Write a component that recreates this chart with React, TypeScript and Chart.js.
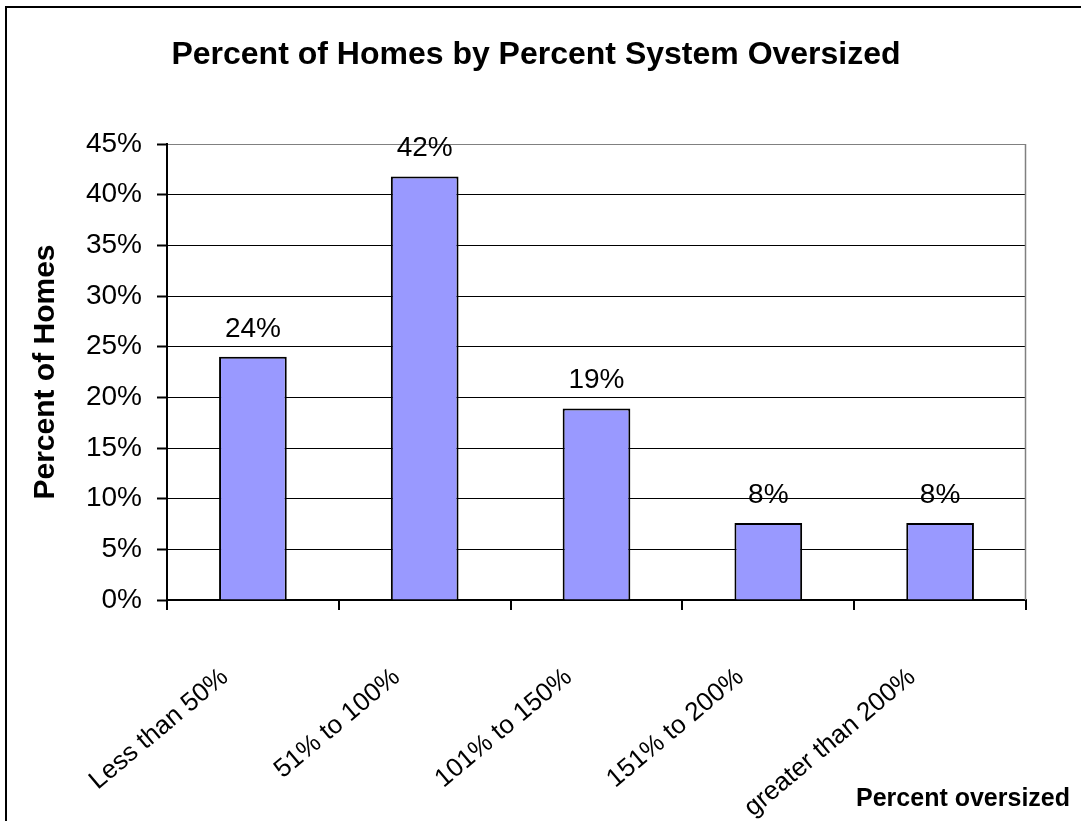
import React, { useEffect, useRef } from "react";
import { Chart, registerables } from "chart.js";

Chart.register(...registerables);

const categories = ["Less than 50%", "51% to 100%", "101% to 150%", "151% to 200%", "greater than 200%"];
const percentHomes = [24.0, 41.8, 18.9, 7.6, 7.6];
const yTickValues = [0, 5, 10, 15, 20, 25, 30, 35, 40, 45];
const chartTitle = "Percent of Homes by Percent System Oversized";
const yTitle = "Percent of Homes";
const xTitle = "Percent oversized";

const FONT = "Arial, 'Liberation Sans', sans-serif";

const dataLabelPlugin = {
  id: "dataLabels",
  afterDatasetsDraw(chart: any) {
    const ctx = chart.ctx;
    const meta = chart.getDatasetMeta(0);
    ctx.save();
    ctx.font = `28px ${FONT}`;
    ctx.fillStyle = "#000";
    ctx.textAlign = "center";
    ctx.textBaseline = "alphabetic";
    meta.data.forEach((bar: any, i: number) => {
      const v = percentHomes[i];
      ctx.fillText(`${Math.round(v)}%`, bar.x, bar.y - 20);
    });
    ctx.restore();
  },
};

const framePlugin = {
  id: "plotFrame",
  afterDraw(chart: any) {
    const { ctx, chartArea } = chart;
    ctx.save();
    ctx.strokeStyle = "#808080";
    ctx.lineWidth = 1.5;
    ctx.beginPath();
    ctx.moveTo(chartArea.right - 0.5, chartArea.top);
    ctx.lineTo(chartArea.right - 0.5, chartArea.bottom);
    ctx.stroke();
    ctx.font = `bold 25px ${FONT}`;
    ctx.fillStyle = "#000";
    ctx.textAlign = "right";
    ctx.textBaseline = "alphabetic";
    ctx.fillText(xTitle, 1070, 806);
    ctx.restore();
  },
};

export default function App() {
  const canvasRef = useRef<HTMLCanvasElement | null>(null);

  useEffect(() => {
    if (!canvasRef.current) return;
    const chart = new Chart(canvasRef.current, {
      type: "bar",
      data: {
        labels: categories,
        datasets: [
          {
            data: percentHomes,
            backgroundColor: "#9999FF",
            borderColor: "#000000",
            borderWidth: 2,
            categoryPercentage: 1,
            barPercentage: 0.394,
          },
        ],
      },
      options: {
        responsive: false,
        animation: false,
        layout: { padding: { left: 46, right: 55, top: 0, bottom: 0 } },
        plugins: {
          legend: { display: false },
          tooltip: { enabled: false },
          title: {
            display: true,
            text: chartTitle,
            color: "#000",
            font: { family: FONT, size: 32, weight: "bold" },
            padding: { top: 36, bottom: 69.6 },
          },
        },
        scales: {
          x: {
            grid: {
              offset: true,
              drawOnChartArea: false,
              drawTicks: true,
              tickLength: 10,
              color: "#000",
              lineWidth: 2,
            },
            border: { display: true, color: "#000", width: 2 },
            ticks: {
              color: "#000",
              font: { family: FONT, size: 26 },
              minRotation: 40,
              maxRotation: 40,
              labelOffset: -28,
              padding: 52,
              autoSkip: false,
            },
            afterFit: (s: any) => {
              s.height = 221;
            },
          },
          y: {
            min: 0,
            max: 45,
            afterBuildTicks: (s: any) => {
              s.ticks = yTickValues.map((v) => ({ value: v }));
            },
            grid: {
              color: (c: any) => (c.tick && c.tick.value === 45 ? "#808080" : "#000"),
              lineWidth: 1,
              tickLength: 10,
              tickWidth: 2,
              tickColor: "#000",
            },
            border: { display: true, color: "#000", width: 2 },
            ticks: {
              color: "#000",
              font: { family: FONT, size: 28 },
              padding: 15,
              callback: (v: any) => `${v}%`,
            },
            title: {
              display: true,
              text: yTitle,
              color: "#000",
              font: { family: FONT, size: 30, weight: "bold" },
              padding: { top: -18, bottom: 0 },
            },
            afterFit: (s: any) => {
              s.width = 121;
            },
          },
        },
      },
      plugins: [dataLabelPlugin, framePlugin],
    } as any);
    return () => chart.destroy();
  }, []);

  return (
    <div
      style={{
        position: "absolute",
        left: 0,
        top: 0,
        width: 1081,
        height: 821,
        overflow: "hidden",
        background: "#fff",
      }}
    >
      <div
        style={{
          position: "absolute",
          left: 5,
          top: 6,
          width: 1200,
          height: 1000,
          border: "2px solid #000",
          boxSizing: "border-box",
        }}
      />
      <canvas
        ref={canvasRef}
        width={1081}
        height={821}
        style={{ position: "absolute", left: 0, top: 0, width: 1081, height: 821 }}
      />
    </div>
  );
}
